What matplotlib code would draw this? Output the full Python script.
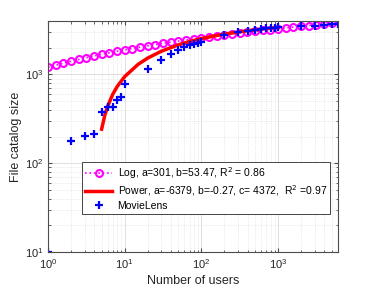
import matplotlib
matplotlib.use("Agg")
import matplotlib.pyplot as plt
from matplotlib.ticker import LogLocator, NullFormatter

plt.rcParams['font.family'] = ['Liberation Sans', 'DejaVu Sans']

# Log fit (circles)
log_x = [1, 1.26, 1.58, 2.0, 2.51, 3.16, 3.98, 5.01, 6.31, 7.94, 10, 12.6, 15.8, 20.0,
         25.1, 31.6, 39.8, 50.1, 63.1, 79.4, 100, 126, 158, 200, 251, 316, 398, 501,
         631, 794, 1000, 1259, 1585, 1995, 2512, 3162, 3981, 5012]
log_y = [1198, 1267, 1337, 1406, 1475, 1545, 1614, 1683, 1753, 1822, 1891, 1960, 2030,
         2099, 2168, 2238, 2307, 2376, 2446, 2515, 2584, 2654, 2723, 2792, 2861, 2931,
         3000, 3069, 3139, 3208, 3277, 3347, 3416, 3485, 3555, 3624, 3693, 3763]

# Power fit (red line)
pow_x = [5, 5.5, 6, 7, 8, 10, 15, 20, 30, 50, 70, 100, 150, 200, 300, 500, 700, 1000]
pow_y = [242, 346, 440, 600, 733, 946, 1302, 1531, 1825, 2153, 2347, 2532, 2723, 2846,
         3004, 3181, 3284, 3383]

# MovieLens data
ml_x = [1, 2, 3, 4, 5, 6, 7, 8, 9, 10, 20, 30, 40, 50, 60, 70, 80, 90, 100,
        200, 300, 400, 500, 600, 700, 800, 900, 1000, 2000, 3000, 4000, 5000, 6040]
ml_y = [10, 177, 205, 214, 379, 432, 432, 514, 551, 778, 1147, 1449, 1694, 1880, 2047,
        2138, 2212, 2269, 2311, 2750, 3000, 3100, 3160, 3240, 3300, 3300, 3350, 3381,
        3480, 3540, 3620, 3700, 3706]

labels = ['Log, a=301, b=53.47, R$^2$ = 0.86',
          'Power, a=-6379, b=-0.27, c= 4372,  R$^2$ =0.97',
          'MovieLens']

fig = plt.figure(figsize=(3.74, 2.90), dpi=100)
ax = fig.add_axes([48/374, 1 - 252/290, 290/374, 231/290])

ax.plot(log_x, log_y, linestyle=':', color='#FF00FF', marker='o', markersize=5,
        markerfacecolor='none', markeredgewidth=1.5, linewidth=1.2, label=labels[0])
ax.plot(pow_x, pow_y, '-', color='#FF0000', linewidth=2.5, label=labels[1])
ax.plot(ml_x, ml_y, linestyle='none', marker='+', color='#0000FF', markersize=6,
        markeredgewidth=1.6, label=labels[2])

ax.set_xscale('log')
ax.set_yscale('log')
ax.set_xlim(1, 6040)
ax.set_ylim(10, 4000)

ax.xaxis.set_major_locator(LogLocator(base=10, numticks=10))
ax.xaxis.set_minor_locator(LogLocator(base=10, subs=range(2, 10), numticks=20))
ax.yaxis.set_major_locator(LogLocator(base=10, numticks=10))
ax.yaxis.set_minor_locator(LogLocator(base=10, subs=range(2, 10), numticks=20))
ax.xaxis.set_minor_formatter(NullFormatter())
ax.yaxis.set_minor_formatter(NullFormatter())

ax.grid(True, which='major', color='#d9d9d9', linewidth=0.6, linestyle='-')
ax.grid(True, which='minor', color='#d9d9d9', linewidth=0.5, linestyle=':')
ax.set_axisbelow(True)

for s in ax.spines.values():
    s.set_color('#4d4d4d')
    s.set_linewidth(0.8)
ax.tick_params(which='both', direction='in', top=True, right=True, colors='#4d4d4d',
               labelcolor='#262626', labelsize=8)
ax.tick_params(which='major', length=3)
ax.tick_params(which='minor', length=1.8)

ax.set_xlabel('Number of users', fontsize=9, color='#262626', labelpad=3)
ax.set_ylabel('File catalog size', fontsize=9, color='#262626', labelpad=2)

leg = ax.legend(loc='lower left', bbox_to_anchor=(0.1, 0.143), fontsize=7.5,
                frameon=True, fancybox=False, edgecolor='#262626', framealpha=1,
                handlelength=2.6, handletextpad=0.5, borderpad=0.3, labelspacing=0.25)
leg.get_frame().set_linewidth(0.6)

fig.savefig('out.png', dpi=100)
